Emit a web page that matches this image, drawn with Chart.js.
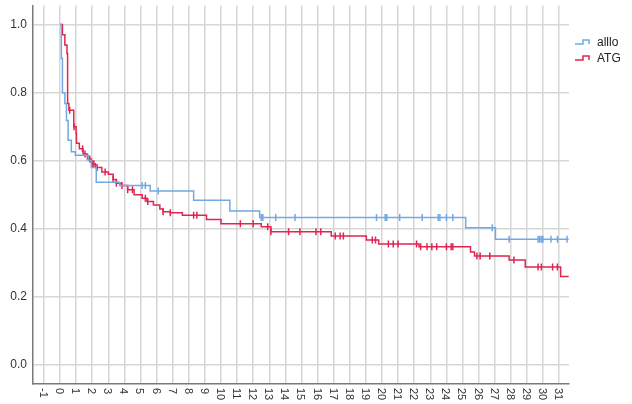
<!DOCTYPE html>
<html>
<head>
<meta charset="utf-8">
<script src="https://cdn.jsdelivr.net/npm/chart.js@4"></script>
<style>
  body { margin: 0; background: #fff; }
  #wrap { width: 632px; height: 404px; position: relative; }
</style>
</head>
<body>
<div id="wrap"><canvas id="km"></canvas></div>
<script>
// Kaplan-Meier step data
const alloTimes = [0, 0.08, 0.15, 0.3, 0.4, 0.5, 0.7, 0.95, 1.75, 1.95, 2.25, 3.7, 5.6, 8.3, 10.55, 12.4, 25.2, 27.05, 31.6];
const alloSurv  = [1.0, 0.90, 0.80, 0.768, 0.718, 0.66, 0.626, 0.616, 0.601, 0.58, 0.537, 0.527, 0.511, 0.484, 0.452, 0.433, 0.403, 0.369, 0.369];
const alloCensor = [5.1, 5.3, 6.1, 12.5, 12.6, 13.4, 14.6, 19.66, 20.2, 20.3, 21.1, 22.5, 23.5, 23.6, 24.0, 24.4, 26.85, 27.9, 29.7, 29.8, 29.9, 30.0, 30.5, 30.9, 31.5];

const atgTimes = [0, 0.15, 0.3, 0.43, 0.47, 0.55, 0.85, 1.0, 1.02, 1.2, 1.43, 1.7, 1.95, 2.2, 2.6, 3.0, 3.3, 3.5, 3.8, 4.2, 4.6, 5.1, 5.4, 5.8, 6.2, 6.4, 6.85, 7.6, 9.1, 10.0, 12.5, 13.1, 16.85, 19.03, 19.8, 22.3, 25.5, 25.75, 27.9, 28.9, 31.1, 31.6];
const atgSurv  = [1.0, 0.97, 0.94, 0.915, 0.768, 0.748, 0.70, 0.68, 0.651, 0.635, 0.62, 0.605, 0.591, 0.58, 0.567, 0.56, 0.545, 0.534, 0.527, 0.515, 0.50, 0.49, 0.48, 0.47, 0.458, 0.45, 0.447, 0.44, 0.427, 0.415, 0.406, 0.391, 0.379, 0.367, 0.355, 0.347, 0.332, 0.32, 0.308, 0.288, 0.26, 0.26];
const atgCensor = [0.6, 0.87, 1.4, 1.55, 1.85, 2.0, 2.1, 2.3, 2.8, 3.3, 3.5, 3.85, 4.2, 4.5, 5.3, 5.45, 6.4, 6.85, 8.3, 8.5, 11.2, 12.0, 12.9, 13.1, 14.2, 14.9, 15.9, 16.2, 17.1, 17.4, 17.6, 19.4, 19.6, 20.4, 20.7, 21.0, 22.15, 22.4, 22.8, 23.1, 23.4, 24.0, 24.3, 24.4, 25.9, 26.1, 26.7, 28.2, 29.7, 29.9, 30.6, 30.9];

const seriesNames = ["alllo", "ATG"];
const xTicks = [-1, 0, 1, 2, 3, 4, 5, 6, 7, 8, 9, 10, 11, 12, 13, 14, 15, 16, 17, 18, 19, 20, 21, 22, 23, 24, 25, 26, 27, 28, 29, 30, 31];
const yTicks = [0, 0.2, 0.4, 0.6, 0.8, 1.0];

const BLUE = "#72a8e4";
const RED = "#df2550";

// survival value at time t (for placing censor marks on the curve)
function survAt(times, surv, t) {
    let s = surv[0];
    for (let i = 0; i < times.length; i++) {
        if (times[i] <= t) s = surv[i];
    }
    return s;
}

const toPts = (times, surv) => times.map((t, i) => ({ x: t, y: surv[i] }));
const censorPts = (c, times, surv) => c.map(t => ({ x: t, y: survAt(times, surv, t) }));

const stepLine = (data, color) => ({
    type: "line",
    data: data,
    borderColor: color,
    borderWidth: 1.5,
    stepped: "before",
    pointRadius: 0,
    fill: false
});
const censorSet = (data, color) => ({
    type: "scatter",
    data: data,
    pointStyle: "line",
    rotation: 90,
    radius: 3.5,
    borderColor: color,
    borderWidth: 1.5,
    backgroundColor: color
});

// x tick labels rotated clockwise + step legend
const extras = {
    id: "extras",
    afterDraw(chart) {
        const ctx = chart.ctx;
        const xs = chart.scales.x;
        ctx.save();
        ctx.fillStyle = "#333";
        ctx.font = "11px 'Liberation Sans', Arial, sans-serif";
        ctx.textAlign = "left";
        ctx.textBaseline = "middle";
        xTicks.forEach(v => {
            ctx.save();
            ctx.translate(xs.getPixelForValue(v) - 1, 388);
            ctx.rotate(Math.PI / 2);
            ctx.fillText(String(v), 0, 0);
            ctx.restore();
        });

        const colors = [BLUE, RED];
        ctx.font = "12px 'Liberation Sans', Arial, sans-serif";
        seriesNames.forEach((name, i) => {
            const y = 43 + i * 16;
            ctx.strokeStyle = colors[i];
            ctx.lineWidth = 1.5;
            ctx.beginPath();
            ctx.moveTo(575, y + 1);
            ctx.lineTo(583, y + 1);
            ctx.lineTo(583, y - 3);
            ctx.lineTo(589, y - 3);
            ctx.lineTo(589, y + 1);
            ctx.stroke();
            ctx.fillStyle = "#222";
            ctx.fillText(name, 597, y);
        });
        ctx.restore();
    }
};

new Chart(document.getElementById("km"), {
    data: {
        datasets: [
            stepLine(toPts(alloTimes, alloSurv), BLUE),
            stepLine(toPts(atgTimes, atgSurv), RED),
            censorSet(censorPts(alloCensor, alloTimes, alloSurv), BLUE),
            censorSet(censorPts(atgCensor, atgTimes, atgSurv), RED)
        ]
    },
    options: {
        responsive: true,
        maintainAspectRatio: false,
        animation: false,
        layout: { padding: { top: 5, right: 63, left: 0, bottom: 0 } },
        plugins: { legend: { display: false }, tooltip: { enabled: false } },
        scales: {
            x: {
                type: "linear",
                min: -1.68,
                max: 31.62,
                afterBuildTicks: s => { s.ticks = xTicks.map(v => ({ value: v })); },
                afterFit: s => { s.height = 20; s.paddingLeft = 0; s.paddingRight = 0; },
                ticks: { display: false },
                grid: { color: "#d6d6d6", lineWidth: 1.5, drawTicks: false },
                border: { color: "#7a7a7a", width: 1.5 }
            },
            y: {
                type: "linear",
                min: -0.056,
                max: 1.056,
                afterBuildTicks: s => { s.ticks = yTicks.map(v => ({ value: v })); },
                afterFit: s => { s.width = 33; s.paddingTop = 0; s.paddingBottom = 0; },
                ticks: {
                    padding: 6,
                    color: "#333",
                    font: { family: "'Liberation Sans', Arial, sans-serif", size: 12 },
                    callback: v => v.toFixed(1)
                },
                grid: { color: "#d6d6d6", lineWidth: 1.5, drawTicks: false },
                border: { color: "#7a7a7a", width: 1.5 }
            }
        }
    },
    plugins: [extras]
});
</script>
</body>
</html>
